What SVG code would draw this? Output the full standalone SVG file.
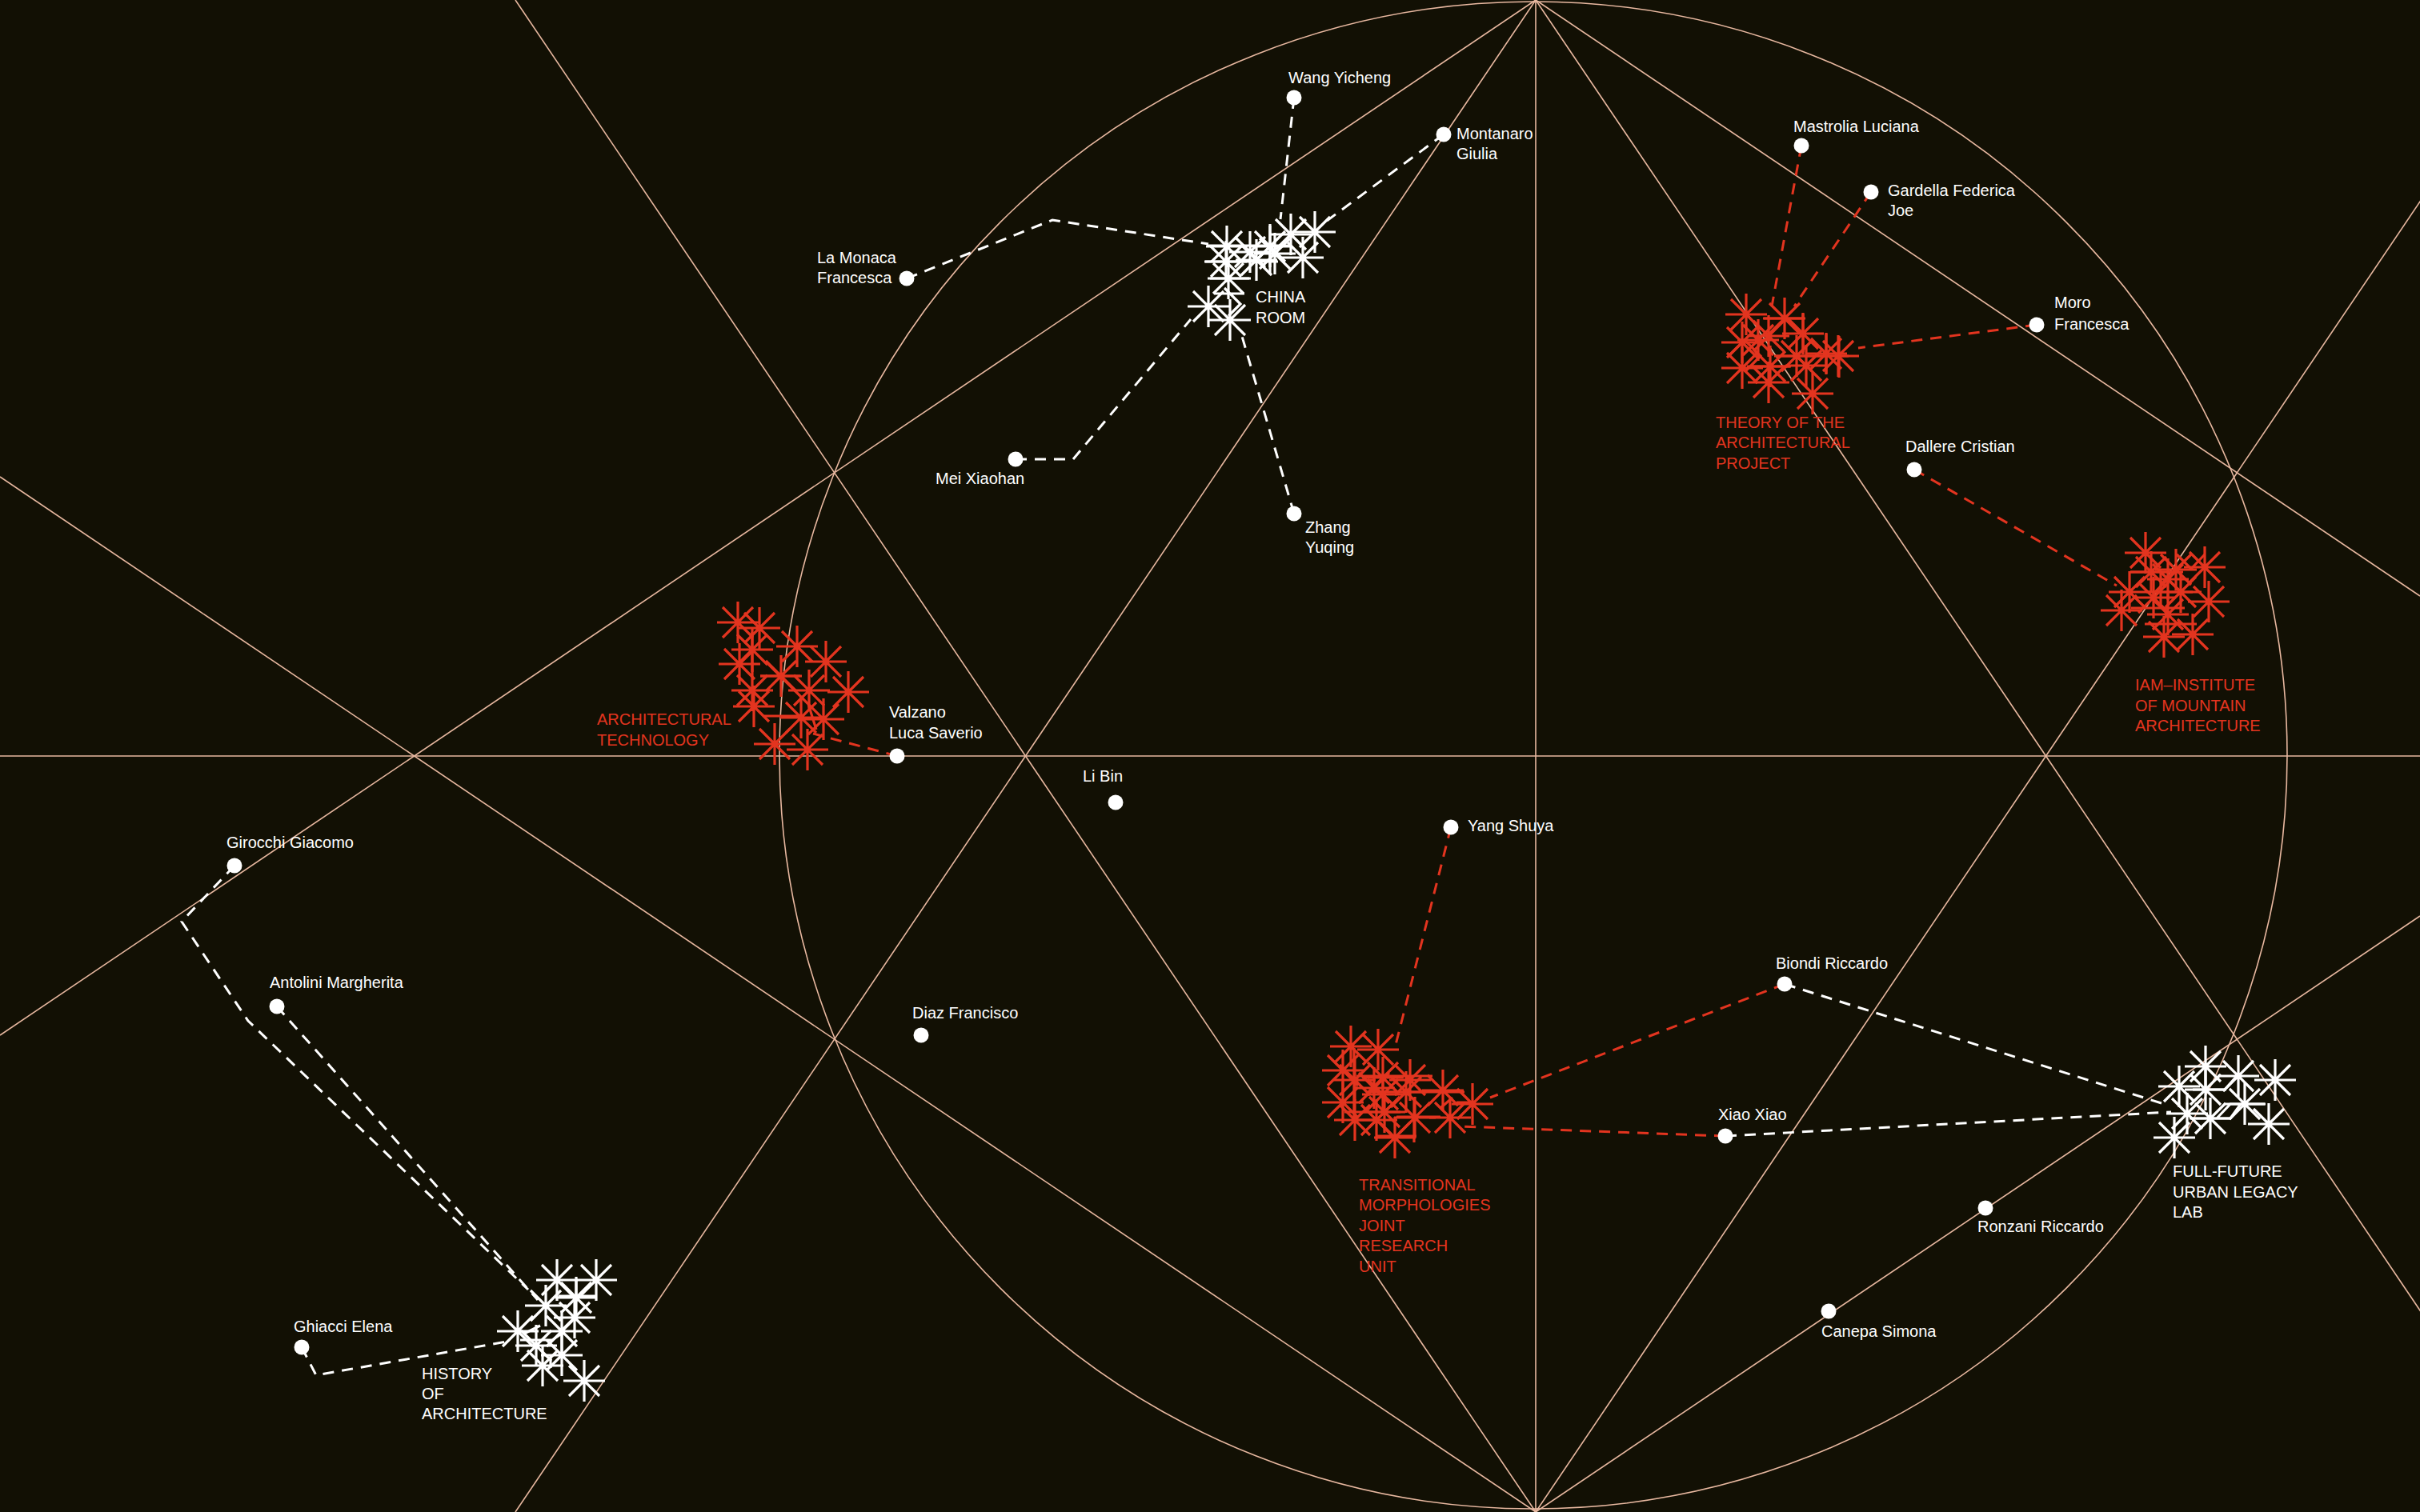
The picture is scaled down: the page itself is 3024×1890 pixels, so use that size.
<svg xmlns="http://www.w3.org/2000/svg" xmlns:xlink="http://www.w3.org/1999/xlink" width="3024" height="1890" viewBox="0 0 3024 1890">
<style>
  .bg { fill: #121004; }
  .guide { fill: none; stroke: #e8b8a0; stroke-width: 1.6; }
  .dot { fill: #ffffff; }
  .lbl { font-family: "Liberation Sans", Arial, sans-serif; font-size: 20px; fill: #ffffff; }
  .lbl-red { font-family: "Liberation Sans", Arial, sans-serif; font-size: 20px; fill: #e3341f; }
  .star-w { stroke: #ffffff; stroke-width: 3.2; fill: none; }
  .star-r { stroke: #e3341f; stroke-width: 3.2; fill: none; }
  .dash-w { fill: none; stroke: #ffffff; stroke-width: 3; stroke-dasharray: 14 10; }
  .dash-r { fill: none; stroke: #e3341f; stroke-width: 3; stroke-dasharray: 14 10; }
</style>
<defs>
  <g id="s"><path d="M-26,0H26M0,-26V26M-19,-19L19,19M-19,19L19,-19"/></g>
</defs>
<rect class="bg" x="0" y="0" width="3024" height="1890"/>

<g id="guides">
  <line class="guide" x1="0" y1="945" x2="3024" y2="945"/>
  <line class="guide" x1="1919" y1="0" x2="1919" y2="1890"/>
  <circle class="guide" cx="1916" cy="944" r="942"/>
  <line class="guide" x1="1919" y1="0" x2="644" y2="1890"/>
  <line class="guide" x1="1919" y1="0" x2="3194" y2="1890"/>
  <line class="guide" x1="1919" y1="0" x2="0" y2="1294"/>
  <line class="guide" x1="1919" y1="0" x2="3024" y2="745"/>
  <line class="guide" x1="1919" y1="1890" x2="644" y2="0"/>
  <line class="guide" x1="1919" y1="1890" x2="3194" y2="0"/>
  <line class="guide" x1="1919" y1="1890" x2="0" y2="596"/>
  <line class="guide" x1="1919" y1="1890" x2="3024" y2="1145"/>
</g>

<g id="connectors">
  <polyline class="dash-w" points="1617,122 1600,274"/>
  <polyline class="dash-w" points="1804,168 1658,276"/>
  <polyline class="dash-w" points="1133,348 1315,275 1510,305"/>
  <polyline class="dash-w" points="1269,574 1341,574 1488,399"/>
  <polyline class="dash-w" points="1617,642 1551,417"/>
  <polyline class="dash-r" points="2251,182 2214,383"/>
  <polyline class="dash-r" points="2338,240 2242,383"/>
  <polyline class="dash-r" points="2545,406 2322,435"/>
  <polyline class="dash-r" points="2392,587 2645,732"/>
  <polyline class="dash-r" points="1121,945 1016,917"/>
  <polyline class="dash-r" points="1813,1034 1743,1310"/>
  <polyline class="dash-r" points="2230,1230 1862,1372"/>
  <polyline class="dash-r" points="2156,1420 1824,1408"/>
  <polyline class="dash-w" points="2230,1230 2704,1380"/>
  <polyline class="dash-w" points="2156,1420 2713,1390"/>
  <polyline class="dash-w" points="293,1082 227,1152 310,1276 660,1612"/>
  <polyline class="dash-w" points="346,1258 672,1625"/>
  <polyline class="dash-w" points="377,1684 395,1719 633,1677"/>
</g>

<g id="china-room">
  <g class="star-w">
    <use href="#s" x="1533" y="308"/><use href="#s" x="1562" y="315"/><use href="#s" x="1570" y="325"/>
    <use href="#s" x="1587" y="308"/><use href="#s" x="1593" y="317"/><use href="#s" x="1613" y="293"/>
    <use href="#s" x="1643" y="290"/><use href="#s" x="1628" y="322"/><use href="#s" x="1532" y="327"/>
    <use href="#s" x="1535" y="348"/><use href="#s" x="1510" y="383"/><use href="#s" x="1537" y="400"/>
    <path d="M1508,307H1613M1505,327H1597M1512,348H1563M1517,367H1555M1587,280V343M1530,360L1550,380L1535,395"/>
  </g>
  <text class="lbl" x="1569" y="378">CHINA</text>
  <text class="lbl" x="1569" y="404">ROOM</text>
</g>

<g id="theory">
  <g class="star-r">
    <use href="#s" x="2182" y="393"/><use href="#s" x="2230" y="398"/><use href="#s" x="2253" y="417"/>
    <use href="#s" x="2210" y="420"/><use href="#s" x="2197" y="425"/><use href="#s" x="2177" y="428"/>
    <use href="#s" x="2177" y="460"/><use href="#s" x="2212" y="458"/><use href="#s" x="2210" y="478"/>
    <use href="#s" x="2245" y="445"/><use href="#s" x="2257" y="457"/><use href="#s" x="2282" y="442"/>
    <use href="#s" x="2297" y="445"/><use href="#s" x="2265" y="492"/>
    <path d="M2203,398H2255M2253,392V440M2183,458H2237M2217,445H2310M2282,417V467M2298,420V472M2160,445L2180,425L2200,445L2180,465"/>
  </g>
  <text class="lbl-red" x="2144" y="535">THEORY OF THE</text>
  <text class="lbl-red" x="2144" y="560">ARCHITECTURAL</text>
  <text class="lbl-red" x="2144" y="586">PROJECT</text>
</g>

<g id="iam">
  <g class="star-r">
    <use href="#s" x="2681" y="691"/><use href="#s" x="2719" y="712"/><use href="#s" x="2755" y="709"/>
    <use href="#s" x="2709" y="724"/><use href="#s" x="2661" y="740"/><use href="#s" x="2691" y="747"/>
    <use href="#s" x="2725" y="740"/><use href="#s" x="2760" y="752"/><use href="#s" x="2651" y="763"/>
    <use href="#s" x="2709" y="768"/><use href="#s" x="2704" y="796"/><use href="#s" x="2740" y="793"/>
    <use href="#s" x="2688" y="715"/>
    <path d="M2662,715H2728M2700,715V755M2682,740H2740M2663,760H2730M2720,693L2738,711L2755,693M2680,780H2745"/>
  </g>
  <text class="lbl-red" x="2668" y="863">IAM–INSTITUTE</text>
  <text class="lbl-red" x="2668" y="889">OF MOUNTAIN</text>
  <text class="lbl-red" x="2668" y="914">ARCHITECTURE</text>
</g>

<g id="arch-tech">
  <g class="star-r">
    <use href="#s" x="922" y="778"/><use href="#s" x="949" y="785"/><use href="#s" x="940" y="812"/>
    <use href="#s" x="924" y="830"/><use href="#s" x="996" y="808"/><use href="#s" x="1032" y="827"/>
    <use href="#s" x="976" y="845"/><use href="#s" x="940" y="863"/><use href="#s" x="1011" y="863"/>
    <use href="#s" x="1060" y="865"/><use href="#s" x="942" y="883"/><use href="#s" x="1001" y="897"/>
    <use href="#s" x="1029" y="899"/><use href="#s" x="968" y="930"/><use href="#s" x="1009" y="937"/>
    <path d="M950,845H1000M955,895H1000M940,790V840M960,830L985,855L1010,880L1020,912"/>
  </g>
  <text class="lbl-red" x="746" y="906">ARCHITECTURAL</text>
  <text class="lbl-red" x="746" y="932">TECHNOLOGY</text>
</g>

<g id="transitional">
  <g class="star-r">
    <use href="#s" x="1688" y="1308"/><use href="#s" x="1722" y="1312"/><use href="#s" x="1678" y="1338"/>
    <use href="#s" x="1693" y="1350"/><use href="#s" x="1728" y="1347"/><use href="#s" x="1717" y="1360"/>
    <use href="#s" x="1728" y="1368"/><use href="#s" x="1757" y="1365"/><use href="#s" x="1762" y="1350"/>
    <use href="#s" x="1803" y="1363"/><use href="#s" x="1840" y="1380"/><use href="#s" x="1678" y="1378"/>
    <use href="#s" x="1693" y="1400"/><use href="#s" x="1720" y="1400"/><use href="#s" x="1730" y="1390"/>
    <use href="#s" x="1768" y="1397"/><use href="#s" x="1812" y="1397"/><use href="#s" x="1743" y="1422"/>
    <path d="M1695,1345H1790M1710,1365H1830M1680,1390H1750M1745,1396H1800M1720,1420H1770M1767,1372V1428M1692,1310V1400M1815,1372L1800,1385M1820,1378H1840"/>
  </g>
  <text class="lbl-red" x="1698" y="1488">TRANSITIONAL</text>
  <text class="lbl-red" x="1698" y="1513">MORPHOLOGIES</text>
  <text class="lbl-red" x="1698" y="1539">JOINT</text>
  <text class="lbl-red" x="1698" y="1564">RESEARCH</text>
  <text class="lbl-red" x="1698" y="1590">UNIT</text>
</g>

<g id="full-future">
  <g class="star-w">
    <use href="#s" x="2756" y="1333"/><use href="#s" x="2797" y="1345"/><use href="#s" x="2843" y="1350"/>
    <use href="#s" x="2723" y="1358"/><use href="#s" x="2756" y="1362"/><use href="#s" x="2805" y="1380"/>
    <use href="#s" x="2733" y="1392"/><use href="#s" x="2762" y="1398"/><use href="#s" x="2835" y="1405"/>
    <use href="#s" x="2717" y="1422"/>
    <path d="M2740,1362H2780L2795,1345M2740,1398H2787L2800,1380M2770,1398L2787,1380H2830"/>
  </g>
  <text class="lbl" x="2715" y="1471">FULL-FUTURE</text>
  <text class="lbl" x="2715" y="1497">URBAN LEGACY</text>
  <text class="lbl" x="2715" y="1522">LAB</text>
</g>

<g id="history">
  <g class="star-w">
    <use href="#s" x="696" y="1600"/><use href="#s" x="745" y="1600"/><use href="#s" x="720" y="1622"/>
    <use href="#s" x="682" y="1632"/><use href="#s" x="718" y="1647"/><use href="#s" x="647" y="1664"/>
    <use href="#s" x="702" y="1664"/><use href="#s" x="670" y="1682"/><use href="#s" x="702" y="1694"/>
    <use href="#s" x="678" y="1707"/><use href="#s" x="730" y="1726"/>
    <path d="M698,1620H745M720,1600V1627M650,1675H690L705,1665M688,1695V1710M655,1667L675,1657"/>
  </g>
  <text class="lbl" x="527" y="1724">HISTORY</text>
  <text class="lbl" x="527" y="1749">OF</text>
  <text class="lbl" x="527" y="1774">ARCHITECTURE</text>
</g>

<g id="wang-yicheng"><circle class="dot" cx="1617" cy="122" r="9.5"/><text class="lbl" x="1610" y="104">Wang Yicheng</text></g>
<g id="montanaro-giulia"><circle class="dot" cx="1804" cy="168" r="9.5"/><text class="lbl" x="1820" y="174">Montanaro</text><text class="lbl" x="1820" y="199">Giulia</text></g>
<g id="la-monaca-francesca"><circle class="dot" cx="1133" cy="348" r="9.5"/><text class="lbl" x="1021" y="329">La Monaca</text><text class="lbl" x="1021" y="354">Francesca</text></g>
<g id="mei-xiaohan"><circle class="dot" cx="1269" cy="574" r="9.5"/><text class="lbl" x="1169" y="605">Mei Xiaohan</text></g>
<g id="zhang-yuqing"><circle class="dot" cx="1617" cy="642" r="9.5"/><text class="lbl" x="1631" y="666">Zhang</text><text class="lbl" x="1631" y="691">Yuqing</text></g>
<g id="mastrolia-luciana"><circle class="dot" cx="2251" cy="182" r="9.5"/><text class="lbl" x="2241" y="165">Mastrolia Luciana</text></g>
<g id="gardella-federica-joe"><circle class="dot" cx="2338" cy="240" r="9.5"/><text class="lbl" x="2359" y="245">Gardella Federica</text><text class="lbl" x="2359" y="270">Joe</text></g>
<g id="moro-francesca"><circle class="dot" cx="2545" cy="406" r="9.5"/><text class="lbl" x="2567" y="385">Moro</text><text class="lbl" x="2567" y="412">Francesca</text></g>
<g id="dallere-cristian"><circle class="dot" cx="2392" cy="587" r="9.5"/><text class="lbl" x="2381" y="565">Dallere Cristian</text></g>
<g id="valzano-luca-saverio"><circle class="dot" cx="1121" cy="945" r="9.5"/><text class="lbl" x="1111" y="897">Valzano</text><text class="lbl" x="1111" y="923">Luca Saverio</text></g>
<g id="li-bin"><circle class="dot" cx="1394" cy="1003" r="9.5"/><text class="lbl" x="1353" y="977">Li Bin</text></g>
<g id="yang-shuya"><circle class="dot" cx="1813" cy="1034" r="9.5"/><text class="lbl" x="1834" y="1039">Yang Shuya</text></g>
<g id="girocchi-giacomo"><circle class="dot" cx="293" cy="1082" r="9.5"/><text class="lbl" x="283" y="1060">Girocchi Giacomo</text></g>
<g id="antolini-margherita"><circle class="dot" cx="346" cy="1258" r="9.5"/><text class="lbl" x="337" y="1235">Antolini Margherita</text></g>
<g id="diaz-francisco"><circle class="dot" cx="1151" cy="1294" r="9.5"/><text class="lbl" x="1140" y="1273">Diaz Francisco</text></g>
<g id="biondi-riccardo"><circle class="dot" cx="2230" cy="1230" r="9.5"/><text class="lbl" x="2219" y="1211">Biondi Riccardo</text></g>
<g id="xiao-xiao"><circle class="dot" cx="2156" cy="1420" r="9.5"/><text class="lbl" x="2147" y="1400">Xiao Xiao</text></g>
<g id="ronzani-riccardo"><circle class="dot" cx="2481" cy="1510" r="9.5"/><text class="lbl" x="2471" y="1540">Ronzani Riccardo</text></g>
<g id="canepa-simona"><circle class="dot" cx="2285" cy="1639" r="9.5"/><text class="lbl" x="2276" y="1671">Canepa Simona</text></g>
<g id="ghiacci-elena"><circle class="dot" cx="377" cy="1684" r="9.5"/><text class="lbl" x="367" y="1665">Ghiacci Elena</text></g>
</svg>
